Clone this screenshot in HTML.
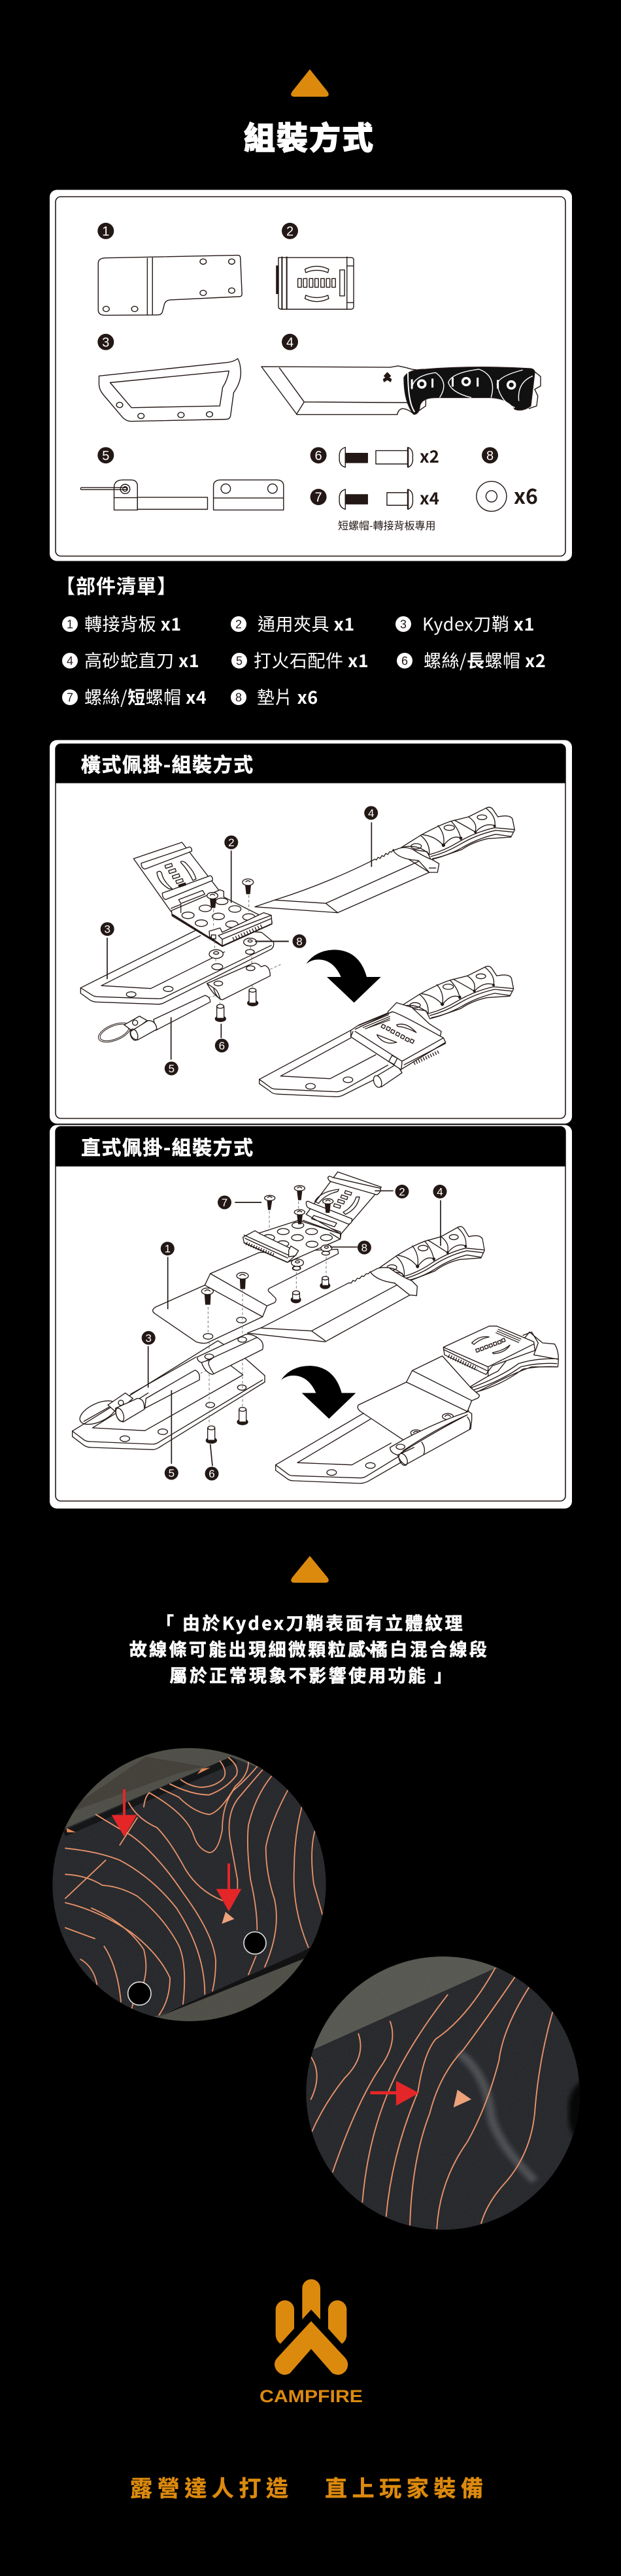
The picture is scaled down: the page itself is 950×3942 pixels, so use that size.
<!DOCTYPE html>
<html><head><meta charset="utf-8"><style>
html,body{margin:0;padding:0;background:#000}
svg{display:block}
text{font-family:"Liberation Sans","Noto Sans CJK TC",sans-serif}
.c{font-family:"Noto Sans CJK TC","Liberation Sans",sans-serif}
.i{fill:none;stroke:#231815;stroke-width:4;stroke-linejoin:round;stroke-linecap:round}
.w{fill:#fff}
.k{fill:#231815}
.d{stroke-dasharray:12 9;stroke:#777;stroke-width:3;fill:none}
.n *{vector-effect:non-scaling-stroke}
.n{fill:none;stroke:#231815;stroke-width:1.4;stroke-linejoin:round}
.b{fill:#231815}
.bt{fill:#fff;text-anchor:middle}
.o{fill:none;stroke:#e9936a;stroke-width:5.5;stroke-linecap:round}
.fb{stroke:#fff;stroke-width:.6}
</style></head><body>
<svg width="950" height="3942" viewBox="0 0 950 3942" xmlns="http://www.w3.org/2000/svg">
<defs>
<clipPath id="c1"><circle cx="289.5" cy="2884" r="209"/></clipPath>
<clipPath id="c2"><circle cx="677.5" cy="3203" r="209"/></clipPath>
<filter id="blur"><feGaussianBlur stdDeviation="6"/></filter>
<filter id="grain" x="0" y="0" width="100%" height="100%"><feTurbulence type="fractalNoise" baseFrequency="1.1" numOctaves="2" seed="4"/><feColorMatrix values="0 0 0 0 1 0 0 0 0 1 0 0 0 0 1 0 0 0 .55 -.18"/></filter>
<g id="handle">
<path class="i w" d="M700 232 L790 175 Q870 130 930 110 L1010 90 L1090 50 Q1112 38 1125 60 L1145 90 Q1200 78 1212 100 L1222 150 L1205 183 L1100 190 Q1030 205 980 240 L880 275 L838 287 L820 250 Z"/>
<path class="i" d="M835 262 Q900 245 960 208 Q1040 160 1130 140 L1218 148 M838 272 Q905 255 968 218 Q1045 172 1135 152 L1215 160 M845 282 Q915 268 980 232 Q1050 190 1135 170 L1205 180"/>
<path class="i" stroke-width="5" d="M700 232 Q775 210 830 262 M790 175 Q835 210 830 265 M870 130 Q905 170 895 222 M800 172 Q860 180 895 222 Q935 170 975 187 M930 110 Q970 150 975 195 M1040 160 Q1055 120 1010 90 M945 105 Q1000 135 1042 160 Q1085 115 1130 130 M1090 50 Q1140 90 1130 135"/>
<ellipse class="i" cx="770" cy="225" rx="24" ry="12"/><ellipse class="i" cx="922" cy="140" rx="24" ry="12"/><ellipse class="i" cx="1072" cy="92" rx="22" ry="11"/>
<circle class="k" cx="895" cy="220" r="8"/><circle class="k" cx="975" cy="188" r="7"/><circle class="k" cx="1042" cy="160" r="6"/><circle class="k" cx="1130" cy="132" r="6"/>
</g>
<path id="arrow" d="M265 765 Q310 700 400 700 Q510 705 543 825 L608 825 L485 943 L360 825 L425 825 Q390 745 320 745 Q290 745 265 765Z" fill="#000"/>
</defs>

<rect width="950" height="3942" fill="#000"/>

<!-- top triangle -->
<path d="M474 106 L501 140 Q506 148 497 148 L451 148 Q442 148 447 140Z" fill="#dc8a0e"/>
<text class="c fb" x="473" y="228" font-size="48" font-weight="900" fill="#fff" text-anchor="middle" letter-spacing="2" style="stroke-width:1.1">組裝方式</text>

<!-- card 1 -->
<rect x="76" y="290.5" width="799" height="568" rx="11" fill="#fff"/>
<rect x="85" y="301" width="780" height="550" rx="8" fill="#fff" stroke="#231815" stroke-width="1.6"/>

<g transform="matrix(.60587 0 0 .5102 0 60)" class="n">
<!-- part 1 -->
<path d="M268 656 L600 648 Q607 648 607 656 L611 765 Q611 772 604 772 L430 782 Q418 783 415 795 L410 818 Q408 827 398 827 L265 828 Q248 828 248 812 L248 672 Q248 656 268 656Z"/>
<path d="M372 656V828M385 655V828"/>
<ellipse cx="513" cy="667" rx="8" ry="8"/><ellipse cx="585" cy="667" rx="8" ry="8"/><ellipse cx="513" cy="761" rx="8" ry="8"/><ellipse cx="585" cy="754" rx="8" ry="8"/><ellipse cx="268" cy="809" rx="8" ry="8"/><ellipse cx="340" cy="809" rx="8" ry="8"/>
<!-- part 2 -->
<path d="M703 655H886Q893 655 893 662V802Q893 810 886 810H712Q703 810 703 802Z"/>
<path d="M712 652V810M724 652V810" stroke-width="2"/><path d="M876 652V810M876 680H893M876 790H893"/>
<path d="M698 680H703V763H698Z" fill="#231815"/>
<rect x="858" y="692" width="12" height="78"/>
<path d="M770 690Q800 672 830 690L828 700Q800 686 772 700Z"/><path d="M770 770Q800 788 830 770L828 760Q800 774 772 760Z" transform="translate(0 8)"/>
<rect x="752" y="718" width="9" height="26"/><rect x="766" y="718" width="9" height="26"/><rect x="781" y="718" width="9" height="26"/><rect x="795" y="718" width="9" height="26"/><rect x="810" y="718" width="9" height="26"/><rect x="824" y="718" width="9" height="26"/><rect x="838" y="718" width="9" height="26"/>
<!-- part 3 -->
<path d="M250 1010L570 970Q590 968 600 958Q607 970 608 1000Q608 1030 590 1060L582 1130Q580 1140 570 1140L330 1146Q320 1146 310 1135L260 1065Q250 1050 250 1035Z"/>
<path d="M278 1030L578 995Q575 1020 562 1045L555 1100L332 1105Z"/>
<ellipse cx="302" cy="1097" rx="8" ry="8"/><ellipse cx="356" cy="1130" rx="8" ry="8"/><ellipse cx="457" cy="1127" rx="8" ry="8"/><ellipse cx="529" cy="1125" rx="8" ry="8"/>
<!-- part 4 -->
<path d="M660 982L985 984L1005 980L1025 985L1040 990L1075 995L1075 1100L1045 1125Q1030 1108 1015 1108Q1005 1112 1003 1126L750 1126Z" fill="#fff"/>
<path d="M705 985L768 1088L1030 1090M768 1088L748 1126"/>
<path d="M1345 992L1365 1012L1365 1040L1350 1050L1358 1070L1355 1100L1335 1108"/>
<path d="M1020 1015Q1030 990 1075 990Q1200 978 1340 988Q1350 990 1350 1000L1340 1100Q1320 1118 1300 1110Q1285 1078 1240 1075L1100 1075Q1065 1075 1060 1100Q1058 1125 1045 1125Q1020 1090 1020 1015Z" fill="#111"/>
<g stroke="#fff"><path d="M1030 1000Q1030 1090 1047 1118" stroke-width="2"/><path d="M1100 1000Q1040 1010 1040 1050M1100 1000Q1135 1030 1110 1075M1210 990Q1140 1000 1132 1030Q1140 1060 1190 1075M1210 990Q1255 1010 1240 1075M1320 992Q1260 1010 1255 1035Q1265 1090 1300 1105M1345 1010Q1305 1030 1310 1085"/>
<path d="M1040 1020V1048M1092 1018V1045M1143 1015V1042M1206 1015V1042M1257 1022V1048" stroke-width="3"/></g>
<ellipse cx="1065" cy="1034" rx="12" ry="14" fill="#fff" stroke="none"/><ellipse cx="1065" cy="1034" rx="6" ry="7" fill="#111" stroke="none"/>
<ellipse cx="1177" cy="1027" rx="12" ry="14" fill="#fff" stroke="none"/><ellipse cx="1177" cy="1027" rx="6" ry="7" fill="#111" stroke="none"/>
<ellipse cx="1291" cy="1037" rx="12" ry="14" fill="#fff" stroke="none"/><ellipse cx="1291" cy="1037" rx="6" ry="7" fill="#111" stroke="none"/>
<path d="M970 1010L978 1000L986 1010L980 1016L978 1014L976 1016ZM968 1020L978 1012L988 1020L986 1027L978 1021L970 1027Z" fill="#231815"/>
<!-- part 5 -->
<path d="M205 1345H320V1351H205Q202 1348 205 1345Z"/>
<path d="M288 1412V1345Q288 1322 310 1322H330Q347 1322 347 1340V1412ZM288 1375H347"/>
<path d="M347 1374H524V1410H347Z"/>
<ellipse cx="316" cy="1349" rx="12" ry="14"/><ellipse cx="316" cy="1349" rx="6" ry="7"/>
<path d="M539 1412V1340Q539 1322 558 1322H698Q716 1322 716 1340V1412ZM539 1376H716"/>
<ellipse cx="570" cy="1348" rx="12" ry="14"/><ellipse cx="688" cy="1348" rx="12" ry="14"/>
<!-- screws -->
<path d="M872 1224Q855 1230 857 1254Q855 1278 872 1284Z"/><rect x="872" y="1242" width="56" height="28" fill="#231815"/>
<rect x="949" y="1234" width="81" height="40"/><path d="M1030 1224Q1044 1230 1042 1254Q1044 1278 1030 1284Z" fill="#fff"/><path d="M1030 1224V1284" stroke-width="2.5"/>
<path d="M872 1350Q855 1356 857 1380Q855 1404 872 1410Z"/><rect x="872" y="1366" width="56" height="28" fill="#231815"/>
<rect x="977" y="1360" width="53" height="38"/><path d="M1030 1350Q1044 1356 1042 1380Q1044 1404 1030 1410Z" fill="#fff"/><path d="M1030 1350V1410" stroke-width="2.5"/>
<ellipse cx="1241" cy="1371" rx="38" ry="45"/><ellipse cx="1241" cy="1371" rx="14" ry="17"/>
</g>

<g class="b"><circle cx="161.8" cy="353.4" r="12.5"/><circle cx="443.5" cy="353.4" r="12.5"/><circle cx="161.8" cy="523.3" r="12.5"/><circle cx="443.5" cy="523.3" r="12.5"/><circle cx="161.8" cy="696.7" r="12.5"/><circle cx="487.1" cy="696.7" r="12.5"/><circle cx="487.1" cy="760.5" r="12.5"/><circle cx="749.5" cy="696.7" r="12.5"/></g>
<g font-size="20" class="bt">
<text class="bt" x="161.8" y="360.5">1</text><text class="bt" x="443.5" y="360.5">2</text><text class="bt" x="161.8" y="530.5">3</text><text class="bt" x="443.5" y="530.5">4</text><text class="bt" x="161.8" y="703.8">5</text><text class="bt" x="487.1" y="703.8">6</text><text class="bt" x="487.1" y="767.6">7</text><text class="bt" x="749.5" y="703.8">8</text>
</g>
<text class="c" x="642" y="708" font-size="26" font-weight="700" fill="#231815">x2</text>
<text class="c" x="642" y="772" font-size="26" font-weight="700" fill="#231815">x4</text>
<text class="c" x="786" y="771" font-size="32" font-weight="700" fill="#231815">x6</text>
<text class="c" x="517" y="810" font-size="16" fill="#231815">短螺帽-轉接背板專用</text>

<!-- parts list -->
<text class="c" x="85" y="908" font-size="30" font-weight="700" fill="#fff" letter-spacing="1">【部件清單】</text>
<g fill="#fff"><circle cx="107" cy="955" r="12"/><circle cx="365" cy="955" r="12"/><circle cx="617" cy="955" r="12"/><circle cx="107" cy="1011" r="12"/><circle cx="366" cy="1011" r="12"/><circle cx="619" cy="1011" r="12"/><circle cx="107" cy="1067" r="12"/><circle cx="365" cy="1067" r="12"/></g>
<g font-size="18" fill="#231815" text-anchor="middle">
<text x="107" y="961.5">1</text><text x="365" y="961.5">2</text><text x="617" y="961.5">3</text><text x="107" y="1017.5">4</text><text x="366" y="1017.5">5</text><text x="619" y="1017.5">6</text><text x="107" y="1073.5">7</text><text x="365" y="1073.5">8</text>
</g>
<g class="c" font-size="27" fill="#fff" letter-spacing=".5">
<text class="c" x="129" y="965">轉接背板 <tspan font-weight="700">x1</tspan></text>
<text class="c" x="394" y="965">通用夾具 <tspan font-weight="700">x1</tspan></text>
<text class="c" x="646" y="965">Kydex刀鞘 <tspan font-weight="700">x1</tspan></text>
<text class="c" x="129" y="1021">高砂蛇直刀 <tspan font-weight="700">x1</tspan></text>
<text class="c" x="388" y="1021">打火石配件 <tspan font-weight="700">x1</tspan></text>
<text class="c" x="648" y="1021">螺絲/<tspan font-weight="700">長</tspan>螺帽 <tspan font-weight="700">x2</tspan></text>
<text class="c" x="129" y="1077">螺絲/<tspan font-weight="700">短</tspan>螺帽 <tspan font-weight="700">x4</tspan></text>
<text class="c" x="393" y="1077">墊片 <tspan font-weight="700">x6</tspan></text>
</g>

<!-- card 2 -->
<rect x="76" y="1132.5" width="799" height="587" rx="11" fill="#fff"/>
<rect x="85" y="1138.5" width="780" height="573" rx="8" fill="#fff" stroke="#231815" stroke-width="1.6"/>
<path d="M85 1198.5V1146.5Q85 1138.5 93 1138.5H857Q865 1138.5 865 1146.5V1198.5Z" fill="#000"/>
<text class="c fb" x="124" y="1181" font-size="30" font-weight="700" fill="#fff" letter-spacing="1.5">橫式佩掛-組裝方式</text>

<!-- card 2 left -->
<g transform="translate(110 1240) scale(.33333)">
<path class="i w" d="M40 815L590 540L870 560L925 605Q930 630 910 640L420 885Q405 892 390 890L110 880Q90 878 75 865L40 840Z"/>
<path class="i" d="M40 815L95 850Q105 855 120 856L395 865Q410 866 425 858L915 620M135 805L590 575M135 805L362 818L700 650"/>
<ellipse class="i" cx="272" cy="845" rx="22" ry="12"/><ellipse class="i" cx="442" cy="820" rx="22" ry="12"/><ellipse class="i" cx="667" cy="718" rx="25" ry="14"/><ellipse class="i" cx="817" cy="650" rx="20" ry="11"/>
<!-- clip upper -->
<path class="i w" d="M283 222L505 147L700 400L455 465Z"/>
<path class="i w" d="M318 243L540 168Q552 172 550 188L335 270Q318 265 318 243Z"/>
<path class="i w" d="M415 380L635 300Q648 305 645 322L430 410Q415 405 415 380Z"/>
<path class="i" d="M390 285Q410 270 415 300Q425 330 460 360L445 360Q395 330 390 285ZM500 235Q515 230 530 250Q560 280 570 315L555 322Q530 270 500 240Z"/>
<g class="i"><rect x="428" y="248" width="32" height="14" transform="rotate(-18 444 255)"/><rect x="445" y="272" width="32" height="14" transform="rotate(-18 461 279)"/><rect x="462" y="296" width="32" height="14" transform="rotate(-18 478 303)"/><rect x="478" y="318" width="32" height="14" transform="rotate(-18 494 325)"/><rect x="490" y="338" width="32" height="10" transform="rotate(-18 506 343)" class="k"/></g>
<path class="i w" d="M490 410L600 368L610 385L500 428Z"/>
<!-- plate -->
<path class="i w" d="M457 460L680 365L697 372L697 398L918 510L918 522L690 625L460 485Z"/>
<path d="M460 478L690 622" stroke="#231815" stroke-width="7" fill="none"/>
<path class="i" d="M455 450L500 432V470"/>
<g><ellipse class="i" cx="533" cy="482" rx="28" ry="15" stroke-width="6"/><ellipse class="i" cx="612" cy="450" rx="28" ry="15" stroke-width="6"/><ellipse class="i" cx="688" cy="418" rx="28" ry="15" stroke-width="6"/><ellipse class="i" cx="748" cy="453" rx="28" ry="15" stroke-width="6"/><ellipse class="i" cx="672" cy="487" rx="28" ry="15" stroke-width="6"/><ellipse class="i" cx="594" cy="518" rx="28" ry="15" stroke-width="6"/><ellipse class="i" cx="734" cy="523" rx="28" ry="15" stroke-width="6"/><ellipse class="i" cx="812" cy="490" rx="28" ry="15" stroke-width="6"/></g>
<path class="i w" d="M630 555L680 540L690 560L880 470L915 482L918 520L690 622L632 580Z"/>
<path class="i" d="M672 575L912 483M690 592L915 497M672 575L690 592V620"/>
<rect class="i" x="640" y="572" width="20" height="18"/>
<path d="M740 592L880 528" stroke="#231815" stroke-width="18" stroke-dasharray="4 10" fill="none"/>
<!-- screws -->
<g><path d="M633 405H662L658 448H638Z" class="k"/><ellipse class="i w" cx="645" cy="392" rx="25" ry="15" stroke-width="6"/><path class="i" d="M635 390Q645 380 655 390"/>
<path d="M795 342H822L818 385H800Z" class="k"/><ellipse class="i w" cx="808" cy="330" rx="25" ry="15" stroke-width="6"/><path class="i" d="M798 328Q808 318 818 328"/></g>
<path class="d" d="M650 455V540M812 390V470M655 600V640M820 625V640M660 680V705M825 670V715M828 800V820M680 840V890M910 730L958 708M625 860L680 845"/>
<!-- washers -->
<ellipse class="i w" cx="662" cy="660" rx="32" ry="20" stroke-width="5"/><ellipse class="i" cx="662" cy="655" rx="12" ry="6"/>
<ellipse class="i w" cx="818" cy="605" rx="30" ry="18" stroke-width="5"/><ellipse class="i" cx="818" cy="600" rx="10" ry="5"/>
<!-- strap -->
<path class="i w" d="M620 795L830 703Q850 698 868 718L885 712Q910 720 910 760L690 870Q660 860 650 815Z"/>
<path class="i" d="M620 795Q650 850 685 868M650 815Q670 825 680 865"/>
<ellipse class="i" cx="672" cy="795" rx="20" ry="11"/><ellipse class="i" cx="820" cy="725" rx="20" ry="11"/>
<!-- rivets -->
<ellipse class="i k" cx="830" cy="885" rx="24" ry="13"/><path class="i w" d="M813 826V885H845V826"/><ellipse class="i w" cx="829" cy="826" rx="16" ry="9"/>
<ellipse class="i k" cx="682" cy="957" rx="24" ry="13"/><path class="i w" d="M665 900V955H698V900"/><ellipse class="i w" cx="681" cy="900" rx="16" ry="9"/>
<!-- rod -->
<path class="i w" d="M375 960L610 850Q635 855 635 880L385 1010Z"/>
<ellipse cx="195" cy="1020" rx="78" ry="36" transform="rotate(-22 195 1020)" fill="none" stroke="#231815" stroke-width="3"/>
<ellipse cx="195" cy="1020" rx="70" ry="30" transform="rotate(-22 195 1020)" fill="none" stroke="#231815" stroke-width="3"/>
<path class="i w" d="M240 985L310 945L345 965L280 1015Z"/><circle class="i" cx="290" cy="975" r="12"/>
<path class="i w" d="M270 1015L350 965Q385 965 390 1005L300 1055Q265 1045 270 1015Z"/>
<ellipse class="i" cx="285" cy="1030" rx="16" ry="27" transform="rotate(-20 285 1030)"/>
<!-- leaders -->
<path d="M731 185V425M162 585V775M455 950V1145M685 980V1045M840 602H995" stroke="#231815" stroke-width="5" fill="none"/>
</g>

<!-- card 2 right -->
<g transform="translate(380 1220) scale(.33333)">
<path class="i w" d="M30 503L120 472Q350 400 570 290L580 284L587 288L595 276L605 281L612 268L622 272L630 258L640 263L648 250L657 252L665 240L830 345L410 530Z"/>
<path class="i" d="M120 472L355 487L410 530M355 487L780 295"/>
<use href="#handle"/>
<path class="i w" d="M665 245Q690 285 780 290L830 345L868 345L875 305L850 290Q800 270 755 240Q720 225 690 235Z"/>
<path class="i" d="M830 325H860"/>
<path d="M565 115V320M35 661H185" stroke="#231815" stroke-width="5" fill="none"/>
<use href="#arrow"/>
<!-- lower assembled -->
<g transform="translate(-5 730)"><use href="#handle"/></g>
<path class="i w" d="M50 1295L470 1070L700 1250L600 1285L440 1365Q420 1376 400 1375L135 1363Q110 1362 100 1350L50 1315Z"/>
<path class="i" d="M50 1295L105 1335Q115 1340 130 1340L405 1352Q420 1352 440 1342L640 1230M148 1280L470 1105M148 1280L375 1292L585 1182"/>
<ellipse class="i" cx="285" cy="1327" rx="22" ry="13"/><ellipse class="i" cx="457" cy="1297" rx="22" ry="13"/>
<path class="i w" d="M580 1285L680 1225L705 1265L610 1330Z"/><ellipse class="i w" cx="593" cy="1305" rx="17" ry="28" transform="rotate(-20 593 1305)"/>
<path class="i w" d="M640 985L680 943L750 965L830 1040L885 1075L880 1100L700 1210Z"/>
<path class="i w" d="M470 1070L500 1050L660 985Q680 985 895 1105L905 1125L700 1250L470 1100Z"/>
<path class="i" d="M490 1065L660 985M895 1105L705 1212L490 1075M470 1100L480 1075M705 1212L702 1250M905 1130L715 1228"/>
<path d="M505 1046L640 990M515 1052L645 998M525 1058L650 1006M535 1064L650 1014M545 1060L650 1022" stroke="#231815" stroke-width="3.5" fill="none"/>
<path d="M760 1222L875 1168" stroke="#231815" stroke-width="16" stroke-dasharray="4 8" fill="none"/>
<path class="i w" d="M680 1045Q725 1030 770 1080Q725 1055 685 1052ZM590 1090Q640 1110 680 1125Q630 1140 595 1100Z"/>
<g class="i"><rect x="612" y="1045" width="15" height="15" transform="rotate(28 620 1052)"/><rect x="635" y="1055" width="15" height="15" transform="rotate(28 642 1062)"/><rect x="655" y="1068" width="15" height="15" transform="rotate(28 662 1075)"/><rect x="678" y="1080" width="15" height="15" transform="rotate(28 685 1087)"/><rect x="700" y="1092" width="15" height="15" transform="rotate(28 707 1100)"/><rect x="722" y="1105" width="15" height="15" transform="rotate(28 730 1112)"/><rect x="743" y="1112" width="15" height="15" transform="rotate(28 750 1120)"/></g>
<rect class="i" x="650" y="1190" width="28" height="32" transform="rotate(28 664 1206)"/>
</g>

<!-- badges card 2 -->
<g class="b"><circle cx="567.7" cy="1244" r="10.5"/><circle cx="353.8" cy="1289" r="10.5"/><circle cx="164.2" cy="1421.7" r="10.5"/><circle cx="458" cy="1440.3" r="10.5"/><circle cx="339.3" cy="1600" r="10.5"/><circle cx="262.3" cy="1635" r="10.5"/></g>
<g font-size="17"><text class="bt" x="567.7" y="1250">4</text><text class="bt" x="353.8" y="1295">2</text><text class="bt" x="164.2" y="1427.7">3</text><text class="bt" x="458" y="1446.3">8</text><text class="bt" x="339.3" y="1606">6</text><text class="bt" x="262.3" y="1641">5</text></g>

<!-- card 3 -->
<rect x="76" y="1721.5" width="799" height="587" rx="11" fill="#fff"/>
<rect x="85" y="1724" width="780" height="573" rx="8" fill="#fff" stroke="#231815" stroke-width="1.6"/>
<path d="M85 1785V1732Q85 1724 93 1724H857Q865 1724 865 1732V1785Z" fill="#000"/>
<text class="c fb" x="124" y="1767" font-size="30" font-weight="700" fill="#fff" letter-spacing="1.5">直式佩掛-組裝方式</text>

<!-- card 3 left -->
<g transform="translate(100 1790) scale(.33333)">
<path class="i w" d="M32 1200L700 785L830 870L915 945V975L430 1275Q415 1285 400 1285L120 1275Q100 1275 85 1265L32 1225Z"/>
<path class="i" d="M32 1200L85 1240Q95 1248 115 1248L400 1260Q415 1260 430 1250L905 965M125 1185L365 1198L815 942L760 900M125 1185L380 1025"/>
<ellipse class="i" cx="273" cy="1235" rx="22" ry="13"/><ellipse class="i" cx="447" cy="1203" rx="22" ry="13"/><ellipse class="i" cx="665" cy="1080" rx="20" ry="12"/><ellipse class="i" cx="810" cy="1000" rx="20" ry="12"/>
<!-- knife -->
<path class="i w" d="M835 750L900 725L1300 520L1312 520L1320 508L1330 512L1340 498L1350 500L1360 488L1370 490L1380 478L1390 478L1400 468L1600 565L1192 790Z"/>
<path class="i" d="M900 727L1130 740L1192 785M1130 740L1520 530"/>
<!-- adapter -->
<path class="i w" d="M415 630L640 530L665 477L890 380L1250 365L1253 385L935 545Q925 555 940 565L965 590Q970 600 960 610L925 625L905 675L650 795Q630 800 600 790L410 660Q390 645 415 630Z"/>
<path class="i" d="M640 530L905 675M665 477L925 625"/>
<ellipse class="i" cx="655" cy="765" rx="22" ry="13"/><ellipse class="i" cx="808" cy="690" rx="22" ry="13"/><ellipse class="i" cx="1060" cy="452" rx="18" ry="10"/>
<!-- dashed -->
<path class="d" d="M936 190V300M1070 145V180M1070 260V400M1060 470V555M1197 400V490M655 630V750M813 550V1090M660 790V1170M620 935L660 915"/>
<!-- screws -->
<path class="k" d="M800 492H828L825 548H803Z"/><ellipse class="i w" cx="813" cy="487" rx="27" ry="15" stroke-width="6"/><path class="i" d="M800 486Q813 475 826 486"/>
<path class="k" d="M638 565H668L665 620H642Z"/><ellipse class="i w" cx="652" cy="558" rx="27" ry="15" stroke-width="6"/><path class="i" d="M640 557Q652 546 664 557"/>
<!-- strap + tube -->
<path class="i w" d="M605 860L830 755Q860 755 880 770Q915 790 905 825L675 940Q640 930 625 885Q605 880 605 860Z"/>
<path class="i" d="M625 885L670 870Q640 880 680 935M640 880L880 770"/>
<ellipse class="i" cx="660" cy="858" rx="20" ry="12"/><ellipse class="i" cx="812" cy="780" rx="20" ry="12"/>
<!-- rod -->
<path class="i" d="M300 1030L600 860"/>
<path class="i w" d="M370 1050L595 920Q620 930 615 965L365 1095Z"/>
<ellipse class="i" cx="150" cy="1115" rx="90" ry="42" transform="rotate(-25 150 1115)"/>
<path class="i" d="M85 1155L200 1090"/>
<path class="i w" d="M195 1080L275 1025L310 1050L235 1115Z"/><circle class="i" cx="255" cy="1070" r="12"/>
<path class="i w" d="M230 1095L330 1050Q365 1050 362 1100L265 1158Q230 1150 230 1095Z"/>
<ellipse class="i" cx="250" cy="1125" rx="16" ry="32" transform="rotate(-20 250 1125)"/>
<!-- rivets -->
<ellipse class="i k" cx="813" cy="1158" rx="24" ry="13"/><path class="i w" d="M797 1100V1158H830V1100"/><ellipse class="i w" cx="813" cy="1100" rx="16" ry="9"/>
<ellipse class="i k" cx="670" cy="1243" rx="24" ry="13"/><path class="i w" d="M653 1185V1242H686V1185"/><ellipse class="i w" cx="670" cy="1185" rx="16" ry="9"/>
<ellipse class="i k" cx="1058" cy="597" rx="22" ry="14"/><path class="i w" d="M1043 565V597H1075V565"/><ellipse class="i w" cx="1059" cy="565" rx="16" ry="9"/>
<ellipse class="i k" cx="1192" cy="532" rx="22" ry="14"/><path class="i w" d="M1178 498V532H1208V498"/><ellipse class="i w" cx="1193" cy="498" rx="15" ry="8"/>
<!-- leaders -->
<path d="M470 400V640M778 150H900M380 810V1000M487 1012V1350M665 1260L675 1360" stroke="#231815" stroke-width="5" fill="none"/>
<g transform="translate(725 200)"><use href="#arrow"/></g>
</g>

<!-- card 3 right -->
<g transform="translate(400 1790) scale(.33333)">
<!-- handle top -->
<g transform="translate(500 470) scale(.94 1.05) translate(-665 -245)"><use href="#handle"/></g>
<path class="i w" d="M500 470Q530 510 610 520L680 575L712 578L715 535L690 510Q640 490 585 450Q540 445 520 460Z"/>
<!-- clip upper -->
<path class="i w" d="M350 10L550 80L365 295L205 205Z"/>
<path class="i w" d="M305 35Q310 25 325 35L545 85Q552 100 530 115L320 55Q305 50 305 35Z"/>
<path class="i" d="M245 145Q270 100 355 90L350 100Q290 115 262 155ZM375 195Q420 170 435 125L450 125Q440 180 385 205Z"/>
<g class="i"><rect x="383" y="100" width="30" height="13" transform="rotate(18 398 106)"/><rect x="365" y="120" width="30" height="13" transform="rotate(18 380 126)"/><rect x="350" y="140" width="30" height="13" transform="rotate(18 365 147)"/><rect x="332" y="160" width="30" height="13" transform="rotate(18 347 167)"/></g>
<!-- plate -->
<path class="i w" d="M-70 310L170 232L365 295L362 318L120 425L-80 335Z"/>
<path class="i w" d="M205 150Q210 140 225 150L415 225Q418 245 400 250L215 175Q205 170 205 150Z"/>
<path class="i" d="M240 210L345 245L335 262L230 225ZM190 232L350 290M320 270L362 285V310M315 290L360 318"/>
<path d="M-80 335L120 425" stroke="#231815" stroke-width="6" fill="none"/>
<g stroke-width="6"><ellipse class="i" cx="100" cy="284" rx="27" ry="14"/><ellipse class="i" cx="167" cy="255" rx="27" ry="14"/><ellipse class="i" cx="230" cy="284" rx="27" ry="14"/><ellipse class="i" cx="298" cy="312" rx="27" ry="14"/><ellipse class="i" cx="232" cy="342" rx="27" ry="14"/><ellipse class="i" cx="165" cy="312" rx="27" ry="14"/><ellipse class="i" cx="98" cy="340" rx="27" ry="14"/><ellipse class="i" cx="33" cy="312" rx="27" ry="14"/></g>
<!-- rail -->
<path class="i w" d="M-85 310L-30 280L-5 295L110 350L150 370L160 390L120 425L-80 335Z"/>
<path class="i" d="M-80 300L130 395M-75 315L120 405"/>
<path d="M-70 338L60 393" stroke="#231815" stroke-width="16" stroke-dasharray="4 8" fill="none"/>
<path class="i w" d="M125 370L135 350L170 372L155 395L125 400Z"/>
<!-- screws -->
<path class="k" d="M25 135H50L42 185H30Z"/><ellipse class="i w" cx="38" cy="130" rx="24" ry="12" stroke-width="6"/><path class="i" d="M28 128Q38 118 48 128"/>
<path class="k" d="M162 90H188L182 140H168Z"/><ellipse class="i w" cx="175" cy="85" rx="24" ry="12" stroke-width="6"/><path class="i" d="M165 84Q175 74 185 84"/>
<path class="k" d="M290 150H318L313 198H295Z"/><ellipse class="i w" cx="305" cy="145" rx="24" ry="12" stroke-width="6"/><path class="i" d="M295 144Q305 134 315 144"/>
<path class="k" d="M162 200H190L183 250H168Z"/><ellipse class="i w" cx="175" cy="195" rx="24" ry="12" stroke-width="6"/><path class="i" d="M165 194Q175 184 185 194"/>
<!-- washers -->
<ellipse class="i w" cx="165" cy="427" rx="28" ry="17" stroke-width="5"/><ellipse class="i" cx="165" cy="423" rx="10" ry="5"/><ellipse class="i" cx="162" cy="452" rx="18" ry="9"/>
<ellipse class="i w" cx="298" cy="360" rx="25" ry="15" stroke-width="5"/><ellipse class="i" cx="298" cy="356" rx="9" ry="5"/><ellipse class="i" cx="295" cy="383" rx="18" ry="9"/>
<path d="M520 97H605M822 140V350M315 355H440" stroke="#231815" stroke-width="5" fill="none"/>

<!-- assembled vertical -->
<path class="i w" d="M1230 745L1290 795L1345 800Q1370 840 1360 905L1240 905Q1170 930 1090 970L980 1025L960 995Q1050 940 1085 925Z"/>
<path class="i" d="M965 1000Q1100 950 1180 890Q1260 865 1358 868M970 1012Q1100 970 1190 905Q1270 885 1355 890M980 1022Q1100 990 1200 915Q1290 900 1355 905M1270 795L1250 850L1360 870M1200 760L1240 745L1270 795"/>
<path class="i w" d="M65 1355L465 1120L950 1105V1165L490 1430Q470 1440 450 1440L150 1428Q130 1428 120 1420L65 1380Z"/>
<path class="i" d="M65 1355L125 1400Q135 1405 150 1405L455 1415Q470 1415 485 1405L640 1310M165 1345L500 1145M165 1345L415 1355L595 1255"/>
<ellipse class="i" cx="322" cy="1390" rx="22" ry="13"/><ellipse class="i" cx="500" cy="1358" rx="22" ry="13"/>
<path class="i w" d="M445 1080L665 975L692 922L830 855L960 1000L1000 1035Q1000 1045 990 1050L965 1060L945 1110L690 1250Q670 1250 650 1240L455 1110Q435 1095 445 1080Z"/>
<path class="i" d="M665 975L945 1110M692 922L965 1060"/>
<ellipse class="i" cx="855" cy="1133" rx="25" ry="14"/><ellipse class="i" cx="710" cy="1208" rx="25" ry="14"/><path class="i" d="M842 1133Q855 1118 868 1133M697 1208Q710 1193 723 1208"/>
<path class="i w" d="M590 1275L660 1235Q800 1160 950 1110L965 1120L965 1150L960 1190L660 1355Q635 1340 625 1310Q590 1300 590 1275Z"/>
<path class="i" d="M640 1300Q800 1200 945 1125M650 1290Q800 1190 935 1130M625 1310L700 1275M735 1250Q755 1280 745 1305M945 1135Q965 1160 955 1190"/>
<ellipse class="i" cx="638" cy="1272" rx="20" ry="12"/>
<ellipse class="i" cx="650" cy="1330" rx="17" ry="29" transform="rotate(-25 650 1330)"/>
<path class="i w" d="M835 815L1045 718L1080 718L1250 790L1255 830L1060 900L1030 940L840 850Z"/>
<path class="i" d="M835 825L1040 925M1040 905L1250 800M1040 905V945M835 815L1040 905"/>
<path d="M1085 732L1192 778M1080 740L1187 786M1075 748L1182 794" stroke="#231815" stroke-width="3.5" fill="none"/>
<path d="M858 855L990 915" stroke="#231815" stroke-width="18" stroke-dasharray="4 8" fill="none"/>
<path class="i" d="M965 795Q1000 760 1045 768Q1005 775 975 802ZM1060 840Q1110 830 1140 805Q1120 840 1065 845Z"/>
<g class="i"><rect x="985" y="822" width="14" height="14" transform="rotate(-22 992 829)"/><rect x="1005" y="815" width="14" height="14" transform="rotate(-22 1012 822)"/><rect x="1025" y="807" width="14" height="14" transform="rotate(-22 1032 814)"/><rect x="1045" y="800" width="14" height="14" transform="rotate(-22 1052 807)"/><rect x="1065" y="792" width="14" height="14" transform="rotate(-22 1072 799)"/><rect x="1085" y="785" width="14" height="14" transform="rotate(-22 1092 792)"/><rect x="1103" y="776" width="14" height="14" transform="rotate(-22 1110 783)"/></g>
</g>

<!-- badges card 3 -->
<g class="b"><circle cx="343.5" cy="1840" r="10.5"/><circle cx="615" cy="1823.4" r="10.5"/><circle cx="673" cy="1823.4" r="10.5"/><circle cx="256.3" cy="1910.7" r="10.5"/><circle cx="557.4" cy="1909" r="10.5"/><circle cx="227.2" cy="2047.3" r="10.5"/><circle cx="262.3" cy="2254" r="10.5"/><circle cx="324" cy="2255" r="10.5"/></g>
<g font-size="17"><text class="bt" x="343.5" y="1846">7</text><text class="bt" x="615" y="1829.4">2</text><text class="bt" x="673" y="1829.4">4</text><text class="bt" x="256.3" y="1916.7">1</text><text class="bt" x="557.4" y="1915">8</text><text class="bt" x="227.2" y="2053.3">3</text><text class="bt" x="262.3" y="2260">5</text><text class="bt" x="324" y="2261">6</text></g>

<!-- triangle 2 + note -->
<path d="M474 2381 L501 2414 Q506 2422 497 2422 L451 2422 Q442 2422 447 2414 Z" fill="#dc8a0e"/>
<g font-size="27" font-weight="700" fill="#fff" text-anchor="middle" letter-spacing="3.4">
<text class="c fb" x="475" y="2494">「 由於Kydex刀鞘表面有立體紋理</text>
<text class="c fb" x="473" y="2534">故線條可能出現細微顆粒感<tspan dx="-13">、</tspan><tspan dx="-14">橘</tspan>白混合線段</text>
<text class="c fb" x="477" y="2574">屬於正常現象不影響使用功能 」</text>
</g>

<!-- photo 1 -->
<g clip-path="url(#c1)">
<rect x="80" y="2670" width="420" height="430" fill="#4c4c45"/>
<g transform="translate(100 2660) scale(.33333)">
<path d="M40 310L370 85L400 90L640 130L520 160L50 330Z" fill="#403d36"/>
<path d="M-110 460L760 85L1300 300L1300 920L420 1275L-110 1300Z" fill="#232529"/>
<path d="M420 1280L1130 960L1150 990L470 1262Z" fill="#0c0c0d"/>
<path d="M-10 425L760 85L790 110L0 450Z" fill="#0f1011"/>
</g>
<rect x="80" y="2670" width="420" height="430" filter="url(#grain)" opacity=".3"/>
<g transform="translate(100 2660) scale(.33333)">
<path class="o" d="M710 105Q750 160 720 190Q680 225 620 225Q570 220 530 190M750 90Q800 130 785 170Q740 230 660 260Q580 260 480 210M840 110Q840 170 780 220Q710 340 660 350Q590 340 520 270L435 230"/>
<path class="o" d="M880 130Q830 190 770 240Q720 310 720 420Q700 525 660 525Q610 510 590 450Q560 350 385 250Q365 270 360 315M905 145Q840 220 790 280Q740 350 755 460Q770 540 790 650L790 690"/>
<path class="o" d="M945 175Q870 270 840 400Q830 500 850 650Q880 780 880 880M1020 240Q940 390 920 500Q920 620 960 740Q990 880 915 1050M1085 315Q1050 450 1050 600Q1040 780 1115 960M1145 425Q1120 520 1140 670L1180 810"/>
<path class="o" d="M290 295Q330 370 420 410Q480 470 550 600Q610 700 720 745M140 350Q220 400 300 445Q420 530 540 710Q680 900 690 1020Q690 1100 675 1160M875 1000L840 1085"/>
<path class="o" d="M0 505Q150 520 250 560Q400 640 510 780Q640 980 640 1175M0 625Q100 630 170 675Q250 680 330 725Q450 820 520 950Q560 1040 540 1220M0 755Q150 790 300 890Q430 990 480 1100Q480 1200 430 1270"/>
<path class="o" d="M0 870L135 920M120 780Q280 850 360 970Q380 1050 360 1120M178 955Q240 1050 255 1210M70 1015Q130 1050 145 1130M185 560L0 735M330 365L250 490M310 1220L305 1240"/>
<path d="M735 797L775 830L718 852Z" fill="#eda27a"/><path d="M5 412L48 432L8 432Z" fill="#e58a55"/><path d="M605 165L625 140L665 135L640 148Z" fill="#e58a55"/>
<circle cx="870" cy="940" r="51" fill="#000" stroke="#ddd" stroke-width="5"/><circle cx="340" cy="1172" r="53" fill="#000" stroke="#ddd" stroke-width="5"/>
<path d="M264 235H276V352H328L270 452L212 352H264Z" fill="#e42628"/>
<path d="M744 575H756V692H808L750 795L692 692H744Z" fill="#e42628"/>
</g>
</g>

<!-- photo 2 -->
<g clip-path="url(#c2)">
<rect x="465" y="2990" width="425" height="425" fill="#55554f"/>
<g transform="matrix(.60587 0 0 .5421 0 2600)">
<path d="M760 1005L1250 760L1500 800L1500 1520L760 1520Z" fill="#232529"/>
<path d="M1160 1000Q1230 1060 1240 1180Q1260 1260 1350 1360" stroke="#4a4c50" stroke-width="22" fill="none" filter="url(#blur)"/>
<path d="M1480 1070Q1430 1100 1436 1170Q1432 1230 1480 1270Z" fill="#060606" filter="url(#blur)"/>
</g>
<rect x="465" y="2990" width="425" height="425" filter="url(#grain)" opacity=".3"/>
<g transform="matrix(.60587 0 0 .5421 0 2600)">
<g class="n" style="stroke:#e9936a;stroke-width:1.9;stroke-linecap:round;fill:none">
<path d="M785 1010Q815 1060 785 1130"/>
<path d="M905 945Q925 1010 870 1070Q820 1140 788 1220"/>
<path d="M985 910Q1005 970 960 1040Q900 1140 840 1335"/>
<path d="M1130 835Q1050 950 1000 1060Q930 1220 915 1420"/>
<path d="M1250 760Q1180 900 1100 960Q1070 1000 1055 1110Q990 1280 975 1460"/>
<path d="M1300 785Q1230 900 1170 990Q1110 1060 1085 1170Q1040 1300 1035 1485"/>
<path d="M1335 815Q1270 930 1260 1020Q1230 1150 1180 1250Q1110 1360 1103 1495"/>
<path d="M1395 885Q1360 1020 1350 1170Q1340 1280 1280 1360Q1230 1420 1215 1480"/>
</g>
<path d="M1155 1103L1190 1130L1145 1153Z" fill="#eda27a"/>
<path d="M935 1107H1000V1078L1058 1112L1000 1148V1116H935Z" fill="#e42628"/>
</g>
</g>

<!-- logo -->
<g transform="translate(300 3400) scale(.33333)" fill="#dc8a0e">
<path d="M487 305A41.5 41.5 0 0 1 570 305L570 448L528 403L487 448Z"/>
<path d="M365 403A42.5 42.5 0 0 1 450 403L450 490L387 560Q365 545 365 515Z"/>
<path d="M691 403A42.5 42.5 0 0 0 606 403L606 490L669 560Q691 545 691 515Z"/>
<path d="M528 456L685 625Q705 650 690 680Q665 715 625 695L528 584L431 695Q395 715 368 680Q350 650 372 625Z"/>
<text x="291" y="828" font-size="80" font-weight="700" textLength="474" lengthAdjust="spacingAndGlyphs">CAMPFIRE</text>
</g>

<!-- slogan -->
<g font-size="34" font-weight="700" fill="#dc8a0e" letter-spacing="7.6" stroke="#dc8a0e" stroke-width=".5">
<text class="c" x="199" y="3820">露營達人打造</text>
<text class="c" x="497" y="3820">直上玩家裝備</text>
</g>
</svg>
</body></html>
